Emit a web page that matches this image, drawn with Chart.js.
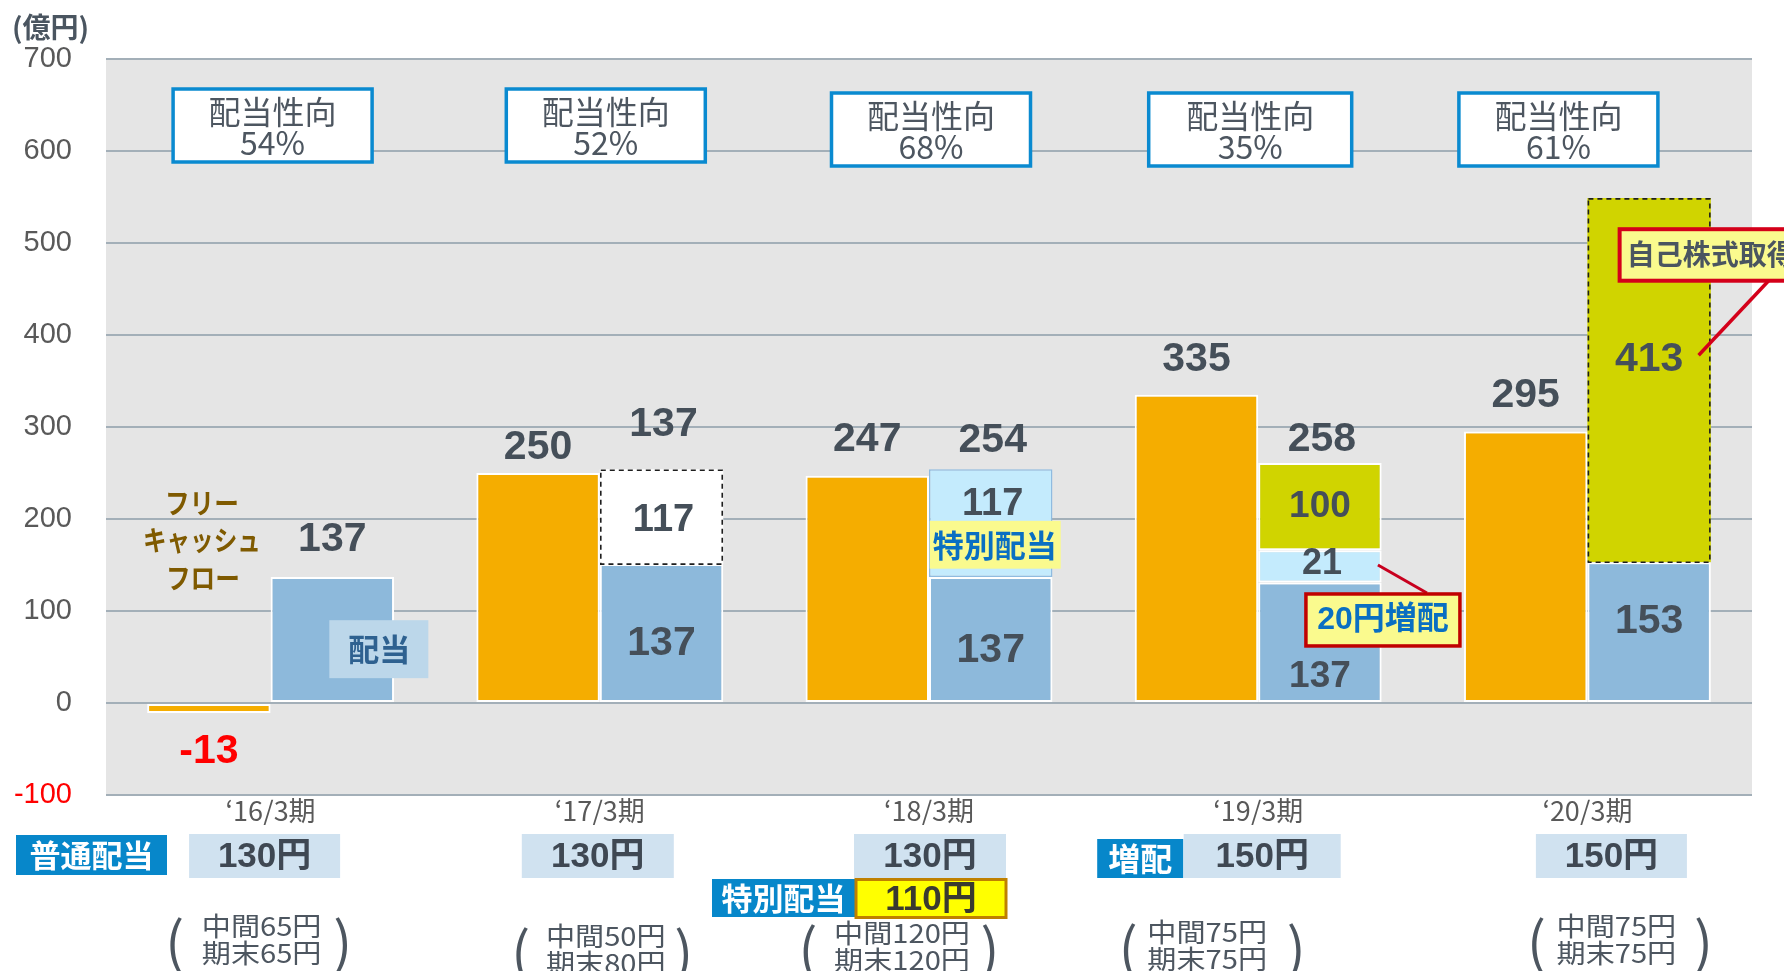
<!DOCTYPE html>
<html><head><meta charset="utf-8">
<script src="https://cdn.jsdelivr.net/npm/chart.js@4.4.1/dist/chart.umd.min.js"></script>
<style>html,body{margin:0;padding:0;background:#fff;}canvas{display:block;}</style>
</head><body>
<canvas id="c" width="1784" height="971"></canvas>
<script>
// ---------- data ----------
const categories = ['\u201816/3期', '\u201817/3期', '\u201818/3期', '\u201819/3期', '\u201820/3期'];
const freeCashFlow = [-11, 250, 247, 335, 295];
const dividendBase = [137, 151, 137, 131, 153];
const dividendExtra = [null, 103, 117, 35, null];
const buybackOrRaise = [null, null, null, 95, 396];
const yTickValues = [-100, 0, 100, 200, 300, 400, 500, 600, 700];

const fcfLabels = ['-13', '250', '247', '335', '295'];
const totalLabels = ['137', '137', '254', '258', ''];
const baseLabels = ['', '137', '137', '137', '153'];
const extraLabels = ['', '117', '117', '21', ''];
const buybackLabels = ['', '', '', '100', '413'];
const payoutRatios = ['54%', '52%', '68%', '35%', '61%'];
const ordinaryDividends = ['130円', '130円', '130円', '150円', '150円'];
const interimDividends = ['中間65円', '中間50円', '中間120円', '中間75円', '中間75円'];
const yearEndDividends = ['期末65円', '期末80円', '期末120円', '期末75円', '期末75円'];

// ---------- text placement (in axis value units) ----------
const fcfLabelAt = [-53, 277, 286, 373, 334];
const totalLabelAt = [177, 302, 285, 286, null];
const baseLabelAt = [null, 65, 57, 29, 88];
const extraLabelAt = [null, 198, 216, 151, null];
const buybackLabelAt = [null, null, null, 213, 373];

const CJK = "'Noto Sans CJK JP', sans-serif";
const NUM = "'Liberation Sans', 'Noto Sans CJK JP', sans-serif";
const DARK = '#454f59';

function drawText(ctx, s, x, y, font, color, align, maxW, sx) {
  ctx.save();
  ctx.font = font; ctx.fillStyle = color; ctx.textAlign = align || 'center'; ctx.textBaseline = 'middle';
  if (sx) { ctx.translate(x, y); ctx.scale(sx, 1); x = 0; y = 0; }
  if (maxW) ctx.fillText(s, x, y, maxW); else ctx.fillText(s, x, y);
  ctx.restore();
}
function box(ctx, l, t, w, h, fill, stroke, lw) {
  ctx.fillStyle = fill; ctx.fillRect(l, t, w, h);
  if (stroke) { ctx.strokeStyle = stroke; ctx.lineWidth = lw; ctx.strokeRect(l, t, w, h); }
}
function line(ctx, x1, y1, x2, y2, color, lw) {
  ctx.beginPath(); ctx.moveTo(x1, y1); ctx.lineTo(x2, y2); ctx.strokeStyle = color; ctx.lineWidth = lw; ctx.stroke();
}

const dashedOutlines = [[2, 1], [3, 4]]; // [datasetIndex, dataIndex]

const overlay = {
  id: 'overlay',
  beforeDraw(chart) {
    const { ctx, chartArea: a } = chart;
    ctx.save();
    ctx.fillStyle = '#ffffff'; ctx.fillRect(0, 0, chart.width, chart.height);
    ctx.fillStyle = '#e5e5e5'; ctx.fillRect(a.left, a.top, a.right - a.left, a.bottom - a.top);
    ctx.restore();
  },
  afterDatasetsDraw(chart) {
    const ctx = chart.ctx;
    ctx.save();
    ctx.setLineDash([5, 4]); ctx.strokeStyle = '#1e1e1e'; ctx.lineWidth = 1.6;
    for (const [d, i] of dashedOutlines) {
      const el = chart.getDatasetMeta(d).data[i];
      const p = el.getProps(['x', 'y', 'base', 'width'], true);
      const t = Math.min(p.y, p.base), h = Math.abs(p.base - p.y);
      ctx.strokeRect(p.x - p.width / 2 + 1, t + 1, p.width - 2, h - 1);
    }
    ctx.restore();
  },
  afterDraw(chart) {
    const { ctx, chartArea: a, scales } = chart;
    const Y = v => scales.y.getPixelForValue(v);
    const C = i => scales.x.getPixelForValue(i);
    const fx = i => chart.getDatasetMeta(0).data[i].x;
    const dx = i => chart.getDatasetMeta(1).data[i].x;
    ctx.save();

    // unit
    drawText(ctx, '(億円)', 12, 27, `bold 28px ${CJK}`, '#4a5560', 'left', 80);

    // payout ratio boxes
    const pbDx = [2, 6, 2, -8, -29], pbTop = [30, 30, 34, 34, 34];
    for (let i = 0; i < 5; i++) {
      const cx = C(i) + pbDx[i], t = a.top + pbTop[i], w = i === 3 ? 203 : 199;
      box(ctx, cx - w / 2, t, w, 73, '#ffffff', '#0a8ad0', 3.5);
      drawText(ctx, '配当性向', cx, t + 23, `32px ${CJK}`, '#4d5660');
      drawText(ctx, payoutRatios[i], cx, t + 54, `32px ${CJK}`, '#4d5660');
    }

    // annotation boxes inside plot
    box(ctx, dx(0) - 3, Y(90), 99, Y(27) - Y(90), '#bcd7ea');
    drawText(ctx, '配当', dx(0) + 47, Y(59), `bold 31px ${CJK}`, '#2e6190');
    box(ctx, dx(2) - 61, Y(198), 131, Y(146) - Y(198), '#fafa8e');
    drawText(ctx, '特別配当', dx(2) + 4, Y(171), `bold 31px ${CJK}`, '#0a6fc2', 'center', 126);
    line(ctx, dx(3) + 58, Y(150), dx(3) + 107, Y(119.6), '#c8001e', 3);
    box(ctx, dx(3) - 14, Y(118.5), 154, Y(62) - Y(118.5), '#fafa8e', '#c00000', 3.5);
    drawText(ctx, '20円増配', dx(3) + 63, Y(90), `bold 32px ${NUM}`, '#0a6fc2', 'center', 138);
    line(ctx, dx(4) + 49.5, Y(378), dx(4) + 119.5, Y(459), '#d4001a', 3.5);
    box(ctx, dx(4) - 29.5, Y(515), 200, Y(459) - Y(515), '#fafa8e', '#d4001a', 4);
    drawText(ctx, '自己株式取得', dx(4) - 22.5, Y(488), `bold 28px ${CJK}`, '#4a5560', 'left');

    // FCF label
    const brown = '#7f5a00';
    drawText(ctx, 'フリー', fx(0) - 7, Y(217), `bold 28px ${CJK}`, brown, 'center', 74);
    drawText(ctx, 'キャッシュ', fx(0) - 7, Y(177), `bold 28px ${CJK}`, brown, 'center', 118);
    drawText(ctx, 'フロー', fx(0) - 6, Y(136), `bold 28px ${CJK}`, brown, 'center', 74);

    // value labels
    for (let i = 0; i < 5; i++) {
      drawText(ctx, fcfLabels[i], fx(i), Y(fcfLabelAt[i]), `bold 41px ${NUM}`, freeCashFlow[i] < 0 ? '#ff0000' : DARK);
      if (totalLabels[i]) drawText(ctx, totalLabels[i], dx(i) + (i === 0 ? 0 : 2), Y(totalLabelAt[i]), `bold 41px ${NUM}`, DARK);
      if (baseLabels[i]) drawText(ctx, baseLabels[i], dx(i), Y(baseLabelAt[i]), `bold ${i === 3 ? 37 : 41}px ${NUM}`, DARK);
      if (extraLabels[i]) drawText(ctx, extraLabels[i], dx(i) + 2, Y(extraLabelAt[i]), `bold ${i === 3 ? 36 : 38}px ${NUM}`, DARK);
      if (buybackLabels[i]) drawText(ctx, buybackLabels[i], dx(i), Y(buybackLabelAt[i]), `bold ${i === 3 ? 37 : 41}px ${NUM}`, DARK);
    }

    // table under the axis
    const B = a.bottom;
    const blue = '#0787ca';
    box(ctx, a.left - 90, B + 40, 151, 40, blue);
    drawText(ctx, '普通配当', a.left - 14.5, B + 60, `bold 31px ${CJK}`, '#ffffff', 'center', 130);
    const odDx = [-6, -2, 1, 4, 24], odW = [151, 152, 152, 157, 151];
    for (let i = 0; i < 5; i++) {
      const cx = C(i) + odDx[i];
      box(ctx, cx - odW[i] / 2, B + 39, odW[i], 44, '#d0e2f0');
      drawText(ctx, ordinaryDividends[i], cx, B + 62, `bold 35px ${NUM}`, '#3f4853');
    }
    box(ctx, C(2) - 217, B + 84, 143, 38, blue);
    drawText(ctx, '特別配当', C(2) - 145.5, B + 103, `bold 31px ${CJK}`, '#ffffff', 'center', 130);
    box(ctx, C(2) - 73, B + 84.5, 150, 38, '#ffff00', '#bf8000', 3);
    drawText(ctx, '110円', C(2) + 2, B + 105, `bold 35px ${NUM}`, '#3a3a30');
    box(ctx, C(3) - 161, B + 44, 86, 39, blue);
    drawText(ctx, '増配', C(3) - 118, B + 64, `bold 32px ${CJK}`, '#ffffff');

    // interim / year-end
    const tDx = [-9, 6, -27, -51, 29], tY = [131, 141, 138, 137, 131];
    const lpDx = [-96, -79, -121, -130, -51], rpDx = [72, 84, 61, 38, 116];
    for (let i = 0; i < 5; i++) {
      const cx = C(i) + tDx[i], y1 = B + tY[i];
      drawText(ctx, interimDividends[i], cx, y1, `26px ${CJK}`, '#4d5660', 'center', null, 1.12);
      drawText(ctx, yearEndDividends[i], cx, y1 + 27, `26px ${CJK}`, '#4d5660', 'center', null, 1.12);
      drawText(ctx, '(', C(i) + lpDx[i], y1 + 16, `56px ${CJK}`, '#4d5660');
      drawText(ctx, ')', C(i) + rpDx[i], y1 + 16, `56px ${CJK}`, '#4d5660');
    }
    ctx.restore();
  }
};

new Chart(document.getElementById('c'), {
  type: 'bar',
  data: {
    labels: categories,
    datasets: [
      { label: 'フリーキャッシュフロー', data: freeCashFlow, stack: 'fcf', backgroundColor: '#f5ad00', borderColor: '#ffffff', borderWidth: 2, borderSkipped: false },
      { label: '配当', data: dividendBase, stack: 'div', backgroundColor: '#8db9db', borderColor: '#ffffff', borderWidth: 2, borderSkipped: false },
      { label: '特別配当・増配', data: dividendExtra, stack: 'div',
        backgroundColor: ['#ffffff', '#ffffff', '#c4ebfd', '#c4ebfd', '#ffffff'],
        borderColor: ['#ffffff', '#ffffff', '#8fbbe0', '#ffffff', '#ffffff'],
        borderWidth: [0, 0, 1.5, 2, 0], borderSkipped: false },
      { label: '自己株式取得', data: buybackOrRaise, stack: 'div', backgroundColor: '#d0d400', borderColor: '#ffffff', borderWidth: [2, 2, 2, 2, 0], borderSkipped: false }
    ]
  },
  options: {
    responsive: false, animation: false, devicePixelRatio: 1,
    layout: { padding: { left: 14, right: 32, top: 59, bottom: 146 } },
    datasets: { bar: { categoryPercentage: 0.75, barPercentage: 1.0 } },
    plugins: { legend: { display: false }, tooltip: { enabled: false } },
    scales: {
      x: {
        grid: { display: false, drawTicks: false }, border: { display: false },
        ticks: { font: { family: "'Noto Sans CJK JP'", size: 27 }, color: '#595959', padding: 0 },
        afterFit(s) { s.height = 30; }
      },
      y: {
        min: -100, max: 700,
        afterBuildTicks(s) { s.ticks = yTickValues.map(v => ({ value: v })); },
        ticks: { font: { family: "'Liberation Sans'", size: 29 }, color: c => (c.tick && c.tick.value < 0 ? '#ff0000' : '#595959'), padding: 34 },
        grid: { color: '#a3afb8', lineWidth: 2, drawTicks: false }, border: { display: false },
        afterFit(s) { s.width = 92; }
      }
    }
  },
  plugins: [overlay]
});
</script>
</body></html>
